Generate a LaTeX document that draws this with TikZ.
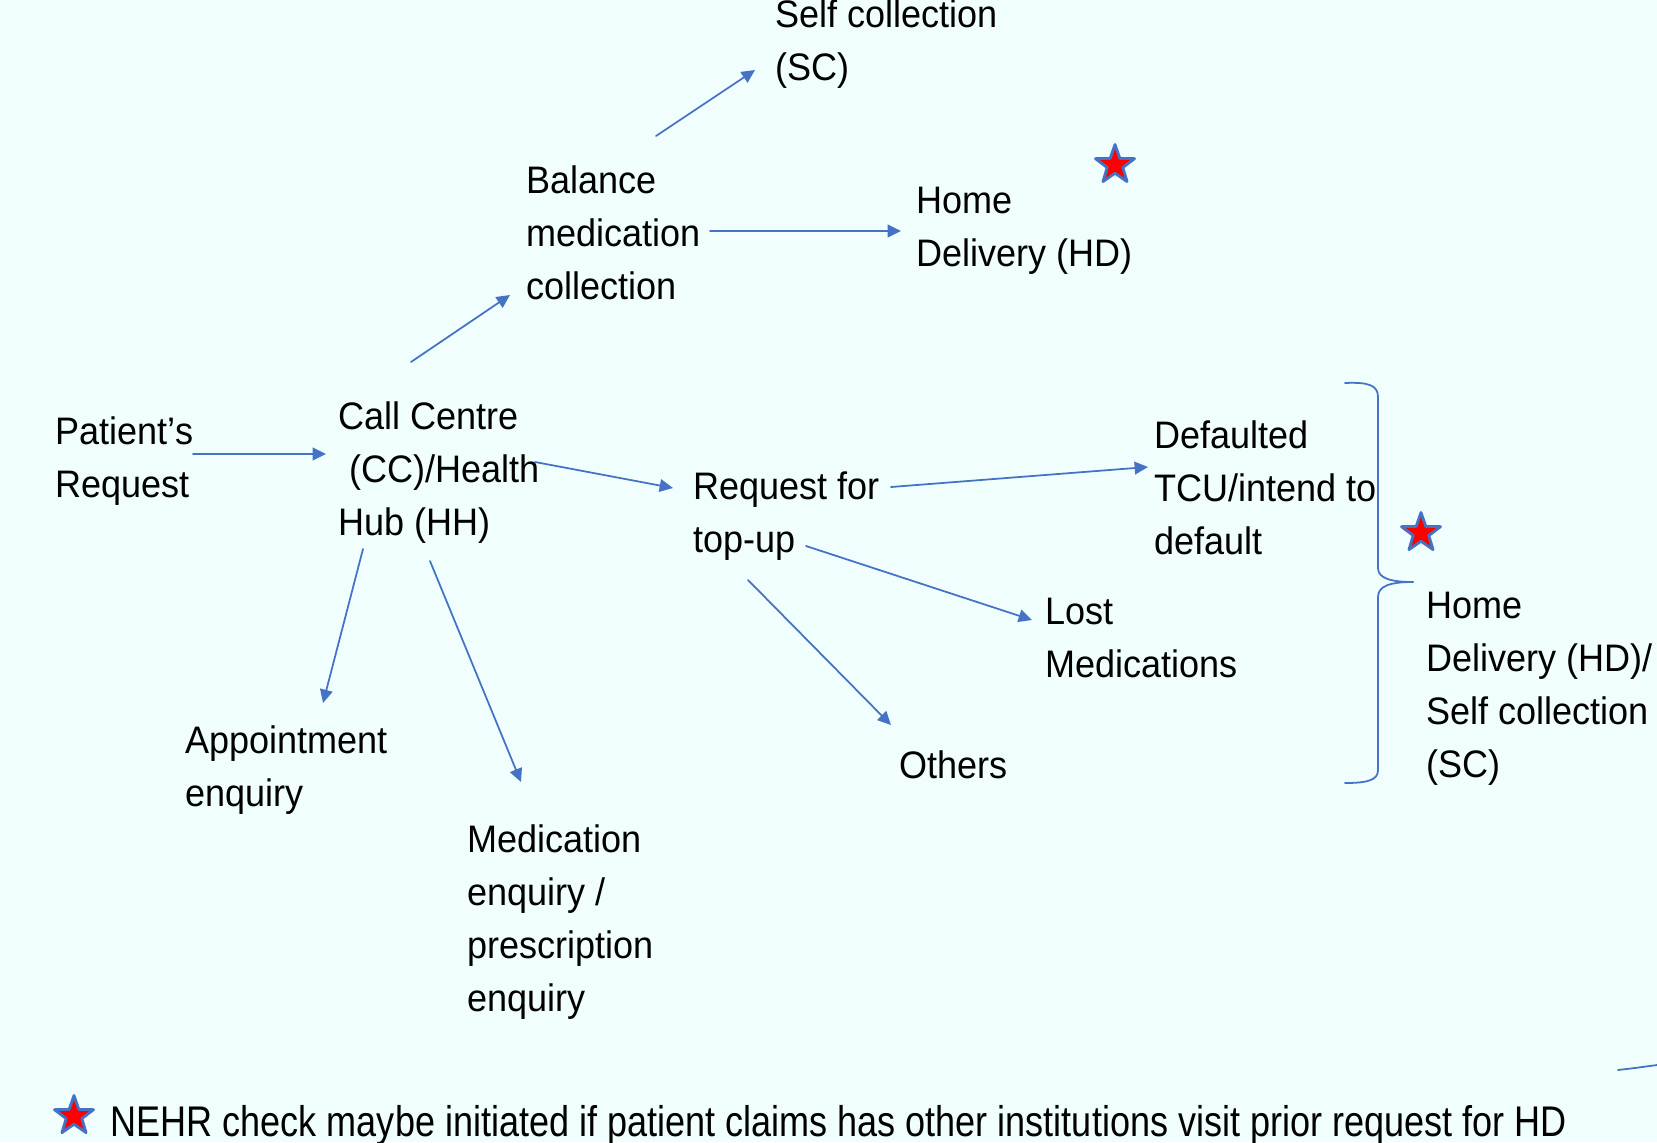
\documentclass[tikz,border=0pt]{standalone}
\usepackage{fontspec}
\setmainfont{Liberation Sans}[FakeStretch=0.94]
\newfontfamily\notefont{Liberation Sans}[FakeStretch=0.84]
\usetikzlibrary{arrows.meta,calc,shapes.geometric}
\definecolor{bgcyan}{RGB}{241,254,254}
\definecolor{lineblue}{RGB}{68,114,196}
\definecolor{starred}{RGB}{255,0,0}
\tikzset{
  lbl/.style={anchor=north west,inner sep=0pt,align=left,font=\fontsize{10.9}{15.1}\selectfont},
  flow/.style={draw=lineblue,line width=0.5pt,-{Triangle[length=3.8pt,width=3.6pt]}},
  nehrstar/.style={star,star points=5,star point ratio=2.5,minimum size=0.41cm,inner sep=0pt,draw=lineblue,fill=starred,line width=0.8pt}
}

\begin{document}
\begin{tikzpicture}[x=0.01cm,y=-0.01cm,line join=round,line cap=round]
\fill[bgcyan] (0,0) rectangle (1657,1142);
\useasboundingbox (0,0) rectangle (1657,1142);
% text of the flow
\node[lbl] (sc) at (775,-1) {Self collection\\(SC)};
\node[lbl] (bal) at (526,165) {Balance\\medication\\collection};
\node[lbl] (hd) at (916,186) {Home\\Delivery (HD)};
\node[lbl] (pat) at (55,416) {Patient’s\\Request};
\node[lbl] (cc) at (338,401) {Call Centre\\\hspace{0.28em}(CC)/Health\\Hub (HH)};
\node[lbl] (req) at (693,471) {Request for\\top-up};
\node[lbl] (dft) at (1154,420) {Defaulted\\TCU/intend to\\default};
\node[lbl] (lost) at (1045,597) {Lost\\Medications};
\node[lbl] (oth) at (899,750) {Others};
\node[lbl] (appt) at (185,725) {Appointment\\enquiry};
\node[lbl] (med) at (467,824) {Medication\\enquiry /\\prescription\\enquiry};
\node[lbl] (hdsc) at (1426,591) {Home\\Delivery (HD)/\\Self collection\\(SC)};
\node[anchor=base west,inner sep=0pt,font=\notefont\fontsize{12.2}{14}\selectfont] (note) at (110,1136) {NEHR check maybe initiated if patient claims has other institutions visit prior request for HD};
% arrows
\draw[flow] ($(pat.north west)+(138,38)$) -- ($(cc.north west)+(-12,53)$);
\draw[flow] ($(cc.north west)+(73,-39)$) -- ($(bal.north west)+(-16,130)$);
\draw[flow] ($(bal.north west)+(130,-29)$) -- ($(sc.north west)+(-20,71)$);
\draw[flow] ($(bal.north west)+(184,66)$) -- ($(hd.north west)+(-15,45)$);
\draw[flow] ($(cc.north west)+(197,61)$) -- ($(req.north west)+(-20,17)$);
\draw[flow] ($(req.north west)+(198,16)$) -- ($(dft.north west)+(-6,47)$);
\draw[flow] ($(req.north west)+(113,75)$) -- ($(lost.north west)+(-13,23)$);
\draw[flow] ($(req.north west)+(55,109)$) -- ($(oth.north west)+(-8,-25)$);
\draw[flow] ($(cc.north west)+(25,148)$) -- ($(appt.north west)+(138,-22)$);
\draw[flow] ($(cc.north west)+(92,160)$) -- ($(med.north west)+(54,-42)$);
% brace
\draw[lineblue,line width=0.5pt] (1345,383) .. controls (1368,382) and (1378,385) .. (1378,397) -- (1378,568)
  .. controls (1378,578) and (1390,582) .. (1413,582);
\draw[lineblue,line width=0.5pt] (1413,582) .. controls (1390,582) and (1378,586) .. (1378,597) -- (1378,770)
  .. controls (1378,780) and (1368,783) .. (1345,783);
\draw[lineblue,line width=0.5pt] (1618,1070) .. controls (1635,1068) .. (1657,1065);
\foreach \n/\x/\y in {st1/1115/165,st2/1421/533,st3/74/1116}{\node[nehrstar] (\n) at (\x,\y) {};}
\end{tikzpicture}
\end{document}
